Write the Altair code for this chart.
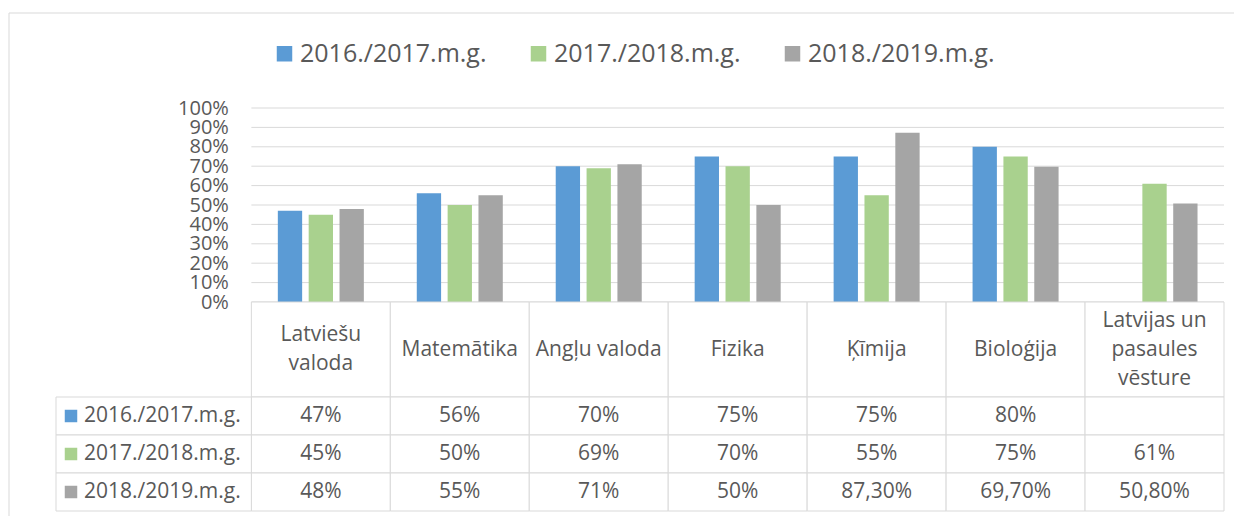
import altair as alt
import pandas as pd

# ---- data ----
categories = ["Latviešu valoda", "Matemātika", "Angļu valoda", "Fizika",
              "Ķīmija", "Bioloģija", "Latvijas un pasaules vēsture"]
header_labels = ["Latviešu\nvaloda", "Matemātika", "Angļu valoda", "Fizika",
                 "Ķīmija", "Bioloģija", "Latvijas un\npasaules\nvēsture"]
series = ["2016./2017.m.g.", "2017./2018.m.g.", "2018./2019.m.g."]
values_2016 = [0.47, 0.56, 0.70, 0.75, 0.75, 0.80, None]
values_2017 = [0.45, 0.50, 0.69, 0.70, 0.55, 0.75, 0.61]
values_2018 = [0.48, 0.55, 0.71, 0.50, 0.873, 0.697, 0.508]
y_ticks = [0.0, 0.1, 0.2, 0.3, 0.4, 0.5, 0.6, 0.7, 0.8, 0.9, 1.0]
colors = ["#5B9BD5", "#A9D18E", "#A5A5A5"]

# ---- styling / layout ----
FONT = "Open Sans"
TEXT = "#595959"
LINE = "#D9D9D9"
W = 1168            # plot width (label column + 7 category columns)
LABEL_COL = 1.406   # label column width, in category-column units
NCOL = len(categories)
COLPX = W / (NCOL + LABEL_COL)
BAR_STEP = 0.222
BAR_W = 0.175
LINE_H = 29


def fmt(v):
    if v is None:
        return ""
    p = round(v * 100, 2)
    if p == int(p):
        return f"{int(p)}%"
    return f"{p:.2f}%".replace(".", ",")


all_values = [values_2016, values_2017, values_2018]
rows = []
for j, s in enumerate(series):
    for i, c in enumerate(categories):
        v = all_values[j][i]
        rows.append({"cat": c, "idx": i, "series": s, "sidx": j,
                     "value": v, "label": fmt(v)})
df = pd.DataFrame(rows)
bar_df = df[df["value"].notna()].copy()

xscale = alt.Scale(domain=[-LABEL_COL, NCOL], nice=False, zero=False)
yscale = alt.Scale(domain=[0, 1], nice=False)
color_scale = alt.Scale(domain=series, range=colors)

yaxis = alt.Axis(values=y_ticks, format=".0%", labelFontSize=20,
                 labelFont=FONT, labelColor=TEXT, domain=False,
                 ticks=False, grid=False, title=None,
                 offset=-LABEL_COL * COLPX, labelPadding=23,
                 labelOverlap=False, labelFlush=False)

# ---- chart frame (decorative border, top and left edges) ----
one = pd.DataFrame({"k": [0]})
frame_top = alt.Chart(one).mark_rule(color=LINE, strokeWidth=1).encode(
    x=alt.value(-47), x2=alt.value(1178), y=alt.value(-95))
frame_left = alt.Chart(one).mark_rule(color=LINE, strokeWidth=1).encode(
    x=alt.value(-47), y=alt.value(-95), y2=alt.value(412))

# ---- bar panel ----
grid_df = pd.DataFrame({"tick": y_ticks, "x0": [0] * len(y_ticks),
                        "x1": [NCOL] * len(y_ticks)})
grid = alt.Chart(grid_df).mark_rule(color=LINE, strokeWidth=1).encode(
    x=alt.X("x0:Q", scale=xscale, axis=None),
    x2="x1:Q",
    y=alt.Y("tick:Q", scale=yscale, axis=yaxis),
)

bars = alt.Chart(bar_df).transform_calculate(
    xc=f"datum.idx + 0.5 + (datum.sidx - 1) * {BAR_STEP}"
).transform_calculate(
    bx0=f"datum.xc - {BAR_W / 2}", bx1=f"datum.xc + {BAR_W / 2}"
).mark_rect().encode(
    x=alt.X("bx0:Q", scale=xscale, axis=None),
    x2="bx1:Q",
    y=alt.Y("value:Q", scale=yscale, axis=yaxis),
    y2=alt.datum(0),
    color=alt.Color("series:N", scale=color_scale,
                    legend=alt.Legend(orient="none", legendX=216, legendY=-67,
                                      direction="horizontal", title=None,
                                      symbolType="square", symbolSize=240,
                                      symbolStrokeWidth=0, labelFontSize=25,
                                      labelFont=FONT, labelColor=TEXT,
                                      labelOffset=3, columnPadding=39,
                                      labelLimit=400, padding=0)),
)

top = alt.layer(frame_top, frame_left, grid, bars).properties(width=W, height=194)

# ---- header row of the data table ----
header_df = pd.DataFrame({"idx": list(range(NCOL)), "label": header_labels,
                          "nlines": [h.count("\n") + 1 for h in header_labels],
                          "row": ["h"] * NCOL})
hbase = alt.Chart(header_df).transform_calculate(
    x0="datum.idx", x1="datum.idx + 1", xc="datum.idx + 0.5")
hy = alt.Y("row:N", axis=None, scale=alt.Scale(paddingInner=0, paddingOuter=0))
hcells = hbase.mark_rect(fill="white", stroke=LINE, strokeWidth=1).encode(
    x=alt.X("x0:Q", scale=xscale, axis=None), x2="x1:Q", y=hy)
hlayers = [hcells]
for n in sorted(set(header_df["nlines"])):
    hlayers.append(
        hbase.transform_filter(f"datum.nlines == {n}").mark_text(
            font=FONT, fontSize=21, color=TEXT, lineBreak="\n",
            lineHeight=LINE_H, align="center", baseline="middle",
            dy=-(n - 1) * LINE_H / 2).encode(
            x=alt.X("xc:Q", scale=xscale, axis=None), y=hy, text="label:N"))
header = alt.layer(*hlayers).properties(width=W, height=95)

# ---- data rows of the table ----
ry = alt.Y("series:N", axis=None,
           scale=alt.Scale(domain=series, paddingInner=0, paddingOuter=0))
label_df = pd.DataFrame({"series": series, "x0": [-LABEL_COL] * 3, "x1": [0] * 3})
rbase = alt.Chart(df).transform_calculate(
    x0="datum.idx", x1="datum.idx + 1", xc="datum.idx + 0.5")
rcells = rbase.mark_rect(fill="white", stroke=LINE, strokeWidth=1).encode(
    x=alt.X("x0:Q", scale=xscale, axis=None), x2="x1:Q", y=ry)
rtext = rbase.mark_text(font=FONT, fontSize=21, color=TEXT, align="center",
                        baseline="middle").encode(
    x=alt.X("xc:Q", scale=xscale, axis=None), y=ry, text="label:N")
lcells = alt.Chart(label_df).mark_rect(fill="white", stroke=LINE, strokeWidth=1).encode(
    x=alt.X("x0:Q", scale=xscale, axis=None), x2="x1:Q", y=ry)
lsq = alt.Chart(label_df).mark_square(size=156, opacity=1, xOffset=15,
                                      strokeWidth=0).encode(
    x=alt.X("x0:Q", scale=xscale, axis=None), y=ry,
    color=alt.Color("series:N", scale=color_scale, legend=None))
ltext = alt.Chart(label_df).mark_text(font=FONT, fontSize=21, color=TEXT,
                                      align="left", baseline="middle", dx=28).encode(
    x=alt.X("x0:Q", scale=xscale, axis=None), y=ry, text="series:N")
table = alt.layer(rcells, lcells, rtext, lsq, ltext).properties(width=W, height=114)

chart = alt.vconcat(top, header, table, spacing=0, bounds="flush").resolve_scale(
    color="independent"
).configure_view(strokeWidth=0).properties(
    padding={"left": 0, "top": 4, "right": 0, "bottom": 0})

chart.save("out.html", embed_options={"renderer": "svg", "actions": False})
